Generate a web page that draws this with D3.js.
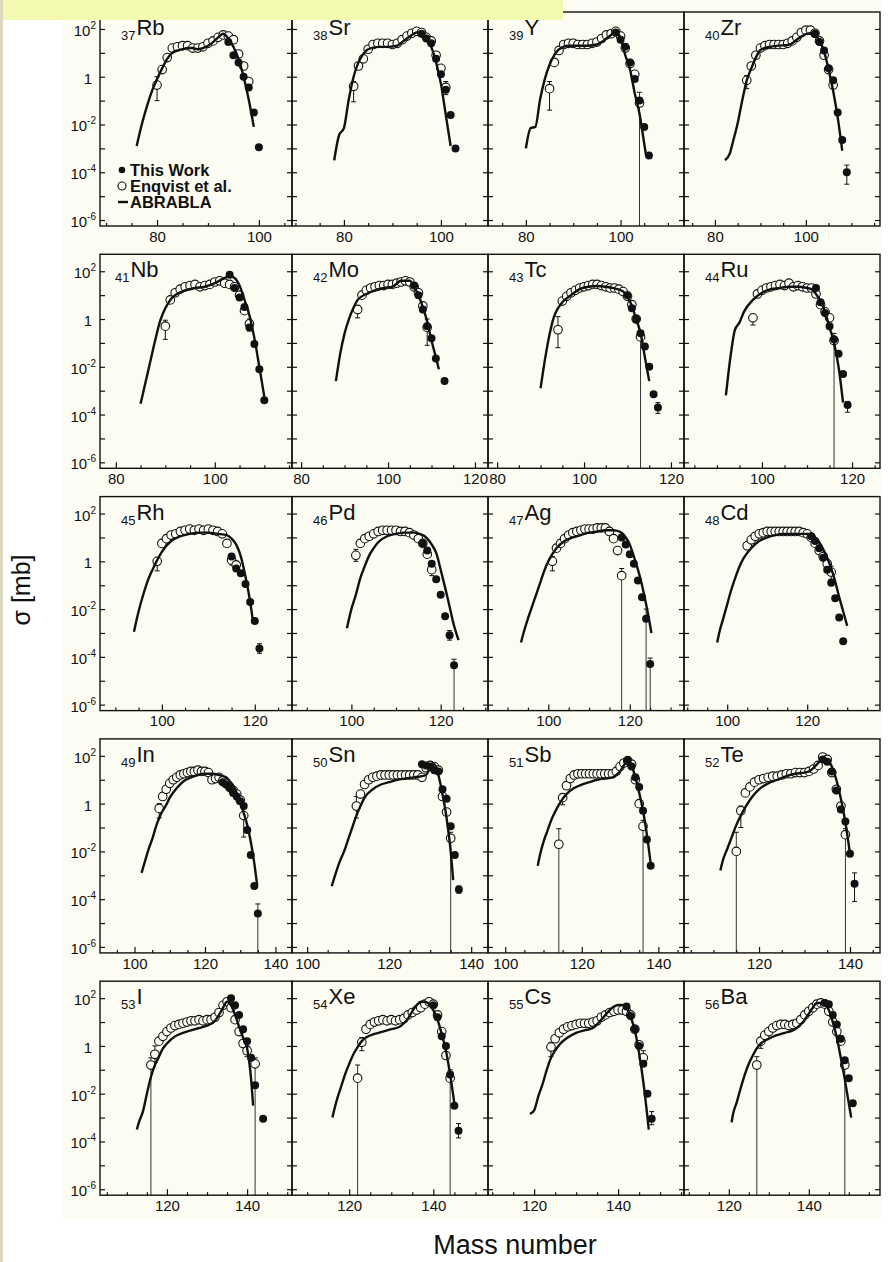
<!DOCTYPE html>
<html>
<head>
<meta charset="utf-8">
<script src="https://cdn.jsdelivr.net/npm/d3@7"></script>
<style>
  body { margin: 0; background: #fff; }
  svg { display: block; font-family: "Liberation Sans", Arial, Helvetica, sans-serif; }
</style>
</head>
<body>
<svg width="896" height="1262"></svg>
<script>
// element symbol and Z of each panel, left to right, top to bottom
const elements = ["Rb","Sr","Y","Zr","Nb","Mo","Tc","Ru","Rh","Pd","Ag","Cd","In","Sn","Sb","Te","I","Xe","Cs","Ba"]
const protonNumbers = [37,38,39,40,41,42,43,44,45,46,47,48,49,50,51,52,53,54,55,56]

// mass-number range shown in each panel
const massRanges = [[68.8,106.5],[69.3,109.7],[72.0,113.4],[73.2,116.3],[76.8,115.6],[77.9,123.0],[77.9,123.0],[82.7,126.2],
  [86.7,128.0],[86.7,130.6],[85.2,133.3],[89.2,138.2],[90.2,144.7],[96.3,144.1],[95.5,146.7],[103.5,146.6],
  [103.3,151.2],[106.4,153.0],[109.0,155.7],[108.8,157.8]]

// log10 of sigma [mb]: axis range and labelled decades
const sigmaRange = [-6.25, 2.71]
const yTickExponents = [2, 0, -2, -4, -6]

// ABRABLA curves: [A, log10 sigma]
const abrabla = [
  [[76,-2.9],[77,-2.0],[78,-1.25],[79,-0.6],[80,-0.1],[81,0.35],[82,0.75],[83,1.0],[84,1.1],[85,1.15],[86,1.2],[87,1.2],[88,1.15],[89,1.2],[90,1.3],[91,1.45],[92,1.65],[93,1.8],[94,1.6],[95,1.25],[96,0.75],[97,0.0],[98,-0.95],[99,-2.1]],
  [[78,-3.5],[79,-2.45],[80,-2.15],[81,-0.95],[82,0.0],[83,0.6],[84,0.95],[85,1.15],[87,1.25],[89,1.25],[91,1.3],[92,1.45],[93,1.6],[94,1.75],[95,1.85],[96,1.8],[97,1.6],[98,1.25],[99,0.6],[100,-0.3],[101,-1.6],[102,-2.9]],
  [[80,-3.0],[81,-2.15],[82,-2.1],[83,-0.95],[84,-0.1],[85,0.5],[86,0.9],[87,1.15],[89,1.3],[91,1.3],[93,1.3],[95,1.35],[96,1.45],[97,1.6],[98,1.75],[99,1.88],[100,1.6],[101,0.9],[102,0.3],[103,-0.7],[104,-1.55],[105,-2.8],[105.4,-3.3]],
  [[82.2,-3.5],[83.3,-3.2],[84,-2.7],[85,-1.95],[86,-1.0],[87,-0.15],[88,0.35],[89,0.8],[90,1.12],[92,1.25],[94,1.3],[96,1.33],[97,1.4],[98,1.55],[99,1.68],[100,1.78],[101,1.82],[102,1.75],[103,1.5],[104,1.05],[105,0.3],[106,-0.6],[107,-1.7],[108,-3.1]],
  [[85,-3.55],[86,-2.65],[87,-1.75],[88,-0.85],[89,-0.05],[90,0.45],[91,0.8],[92,1.0],[94,1.2],[96,1.3],[98,1.35],[100,1.5],[102,1.72],[103,1.8],[104,1.72],[105,1.4],[106,0.8],[107,0.15],[108,-0.8],[109,-2.0],[110,-3.25]],
  [[88,-2.6],[89,-1.45],[90,-0.6],[91,0.0],[92,0.45],[93,0.8],[95,1.05],[97,1.2],[99,1.3],[101,1.35],[103,1.6],[105,1.6],[106,1.35],[107,1.0],[108,0.5],[109,-0.1],[110,-0.9],[111,-1.6],[111.7,-2.1]],
  [[90,-2.9],[91,-1.7],[92,-0.7],[93,0.05],[94,0.45],[95,0.7],[97,1.0],[99,1.25],[101,1.35],[103,1.38],[105,1.35],[107,1.28],[109,1.15],[110,0.95],[111,0.55],[112,0.0],[113,-0.6],[114,-1.6],[115,-2.6]],
  [[92,-3.2],[93,-1.6],[94,-0.45],[95,-0.15],[96,0.3],[98,0.8],[100,1.1],[102,1.25],[104,1.3],[106,1.35],[108,1.35],[110,1.3],[111,1.25],[112,1.05],[113,0.75],[114,0.3],[115,-0.35],[116,-1.0],[117,-2.0],[118,-3.5]],
  [[94,-2.95],[95,-2.1],[96,-1.4],[97,-0.8],[98,-0.35],[99,0.05],[100,0.4],[102,0.85],[104,1.05],[106,1.15],[108,1.2],[110,1.2],[112,1.15],[114,1.1],[115,0.95],[116,0.7],[117,0.2],[118,-0.65],[119,-1.7],[119.6,-2.5]],
  [[99,-2.8],[100,-2.0],[101,-1.4],[102,-0.7],[103,-0.2],[104,0.25],[105,0.55],[106,0.8],[108,1.05],[110,1.15],[112,1.2],[114,1.2],[116,1.1],[117,0.95],[118,0.7],[119,0.35],[120,-0.35],[121,-1.1],[122,-1.9],[123,-2.7],[124,-3.3]],
  [[93.3,-3.4],[94,-2.95],[95,-2.4],[96,-1.9],[97,-1.4],[98,-0.9],[99,-0.4],[100,0.0],[102,0.55],[104,0.85],[106,1.0],[108,1.1],[110,1.2],[112,1.25],[114,1.3],[116,1.3],[118,1.2],[119,1.0],[120,0.7],[121,0.2],[122,-0.35],[123,-1.0],[124,-1.8],[125,-2.7],[125.3,-3.0]],
  [[97.5,-3.4],[98,-3.0],[99,-2.4],[100,-1.8],[101,-1.2],[102,-0.7],[103,-0.25],[104,0.1],[106,0.55],[108,0.85],[110,1.0],[112,1.1],[114,1.15],[116,1.15],[118,1.15],[120,1.15],[121,1.1],[122,1.0],[123,0.8],[124,0.5],[125,0.15],[126,-0.3],[127,-0.85],[128,-1.5],[129,-2.1],[130,-2.7]],
  [[102,-2.9],[103,-2.4],[104,-1.9],[105,-1.5],[106,-1.0],[107,-0.6],[108,-0.3],[109,-0.05],[110,0.25],[112,0.65],[114,0.95],[116,1.1],[118,1.2],[120,1.25],[122,1.25],[124,1.2],[126,1.1],[127,0.95],[128,0.75],[129,0.45],[130,0.05],[131,-0.4],[132,-0.9],[133,-1.6],[134,-2.5],[134.8,-3.4]],
  [[106,-3.45],[107,-2.9],[108,-2.4],[109,-2.0],[110,-1.5],[111,-1.0],[112,-0.5],[113,-0.1],[114,0.25],[116,0.6],[118,0.8],[120,0.9],[122,1.0],[124,1.05],[126,1.1],[128,1.15],[129,1.2],[130,1.5],[131,1.65],[132,1.2],[133,0.4],[134,-0.6],[135,-2.0],[135.6,-3.2]],
  [[108.5,-2.6],[109,-2.2],[110,-1.6],[111,-1.15],[112,-0.7],[113,-0.35],[114,-0.05],[115,0.2],[116,0.4],[118,0.65],[120,0.8],[122,0.9],[124,1.0],[126,1.05],[128,1.1],[129,1.2],[130,1.35],[131,1.6],[132,1.8],[133,1.6],[134,1.1],[135,0.45],[136,-0.3],[137,-1.3],[138,-2.5]],
  [[111.5,-2.8],[112,-2.4],[113,-1.9],[114,-1.4],[115,-0.9],[116,-0.5],[117,-0.15],[118,0.15],[119,0.4],[120,0.6],[122,0.85],[124,1.0],[126,1.15],[128,1.25],[130,1.3],[131,1.35],[132,1.5],[133,1.7],[134,1.9],[135,1.85],[136,1.55],[137,1.0],[138,0.2],[139,-0.8],[140,-2.1]],
  [[112.5,-3.5],[113,-3.2],[114,-2.75],[115,-2.0],[116,-1.3],[117,-0.8],[118,-0.45],[119,-0.1],[120,0.1],[122,0.4],[124,0.55],[126,0.65],[128,0.75],[130,0.85],[132,1.05],[133,1.3],[134,1.6],[135,1.85],[136,1.7],[137,1.3],[138,0.8],[139,0.35],[140,-0.1],[141,-1.4],[141.5,-2.5]],
  [[116,-3.0],[117,-2.3],[118,-1.75],[119,-1.2],[120,-0.75],[121,-0.35],[122,-0.05],[123,0.2],[124,0.35],[126,0.5],[128,0.6],[130,0.7],[132,0.8],[133,0.95],[134,1.15],[135,1.45],[136,1.7],[137,1.85],[138,1.85],[139,1.75],[140,1.5],[141,1.1],[142,0.5],[143,-0.2],[144,-1.2],[145,-2.4]],
  [[119,-2.85],[120,-2.7],[121,-2.1],[122,-1.6],[123,-1.0],[124,-0.5],[125,-0.2],[126,0.05],[128,0.35],[130,0.55],[132,0.65],[134,0.75],[135,0.9],[136,1.1],[137,1.3],[138,1.5],[139,1.65],[140,1.72],[141,1.72],[142,1.6],[143,1.2],[144,0.65],[145,-0.3],[146,-1.5],[147,-3.0],[147.3,-3.5]],
  [[120.7,-3.2],[121,-2.9],[122,-2.35],[123,-1.75],[124,-1.2],[125,-0.75],[126,-0.4],[127,-0.1],[128,0.1],[130,0.3],[132,0.45],[134,0.55],[136,0.65],[137,0.75],[138,0.9],[139,1.1],[140,1.35],[141,1.6],[142,1.8],[143,1.8],[144,1.75],[145,1.5],[146,1.0],[147,0.35],[148,-0.5],[149,-1.4],[150,-2.4],[150.6,-3.0]]
]

// Enqvist et al. (open circles): [A, log10 sigma, errLow, errHigh]; errLow null = bar down to the axis
const enqvist = [
  [[80,-0.35,-1.0,0.0],[81,0.3],[82,0.8],[83,1.2],[84,1.25],[85,1.3],[86,1.3],[87,1.2],[88,1.2],[89,1.25],[90,1.4],[91,1.5],[92,1.65],[93,1.75],[94,1.7],[95,1.55],[96,0.95],[97,0.45],[98,-0.2]],
  [[82,-0.4,-1.05,-0.2],[83,0.45],[84,0.75],[85,1.15],[86,1.35],[87,1.4],[88,1.4],[89,1.4],[90,1.35],[91,1.4],[92,1.55],[93,1.7],[94,1.82],[95,1.9],[96,1.85],[97,1.65],[98,1.5],[99,0.9],[100,0.35],[101,-0.45,-0.75,-0.2]],
  [[85,-0.5,-1.4,-0.2],[86,0.6],[87,1.1],[88,1.35],[89,1.4],[90,1.4],[91,1.35],[92,1.35],[93,1.35],[94,1.4],[95,1.45],[96,1.6],[97,1.75],[98,1.8],[99,1.9],[100,1.7],[101,1.2],[102,0.55],[103,0.1],[104,-1.1,null,-0.65]],
  [[87,-0.15,-0.5,0.05],[88,0.45],[89,0.9],[90,1.2],[91,1.3],[92,1.35],[93,1.35],[94,1.35],[95,1.35],[96,1.4],[97,1.5],[98,1.65],[99,1.85],[100,1.95],[101,1.95],[102,1.82],[103,1.5],[104,0.9],[105,0.3],[106,-0.35]],
  [[90,-0.3,-0.85,-0.05],[91,0.8],[92,1.1],[93,1.25],[94,1.35],[95,1.4],[96,1.45],[97,1.35],[98,1.4],[99,1.45],[100,1.55],[101,1.6],[102,1.5],[103,1.45],[104,1.35],[105,1.0],[106,0.35],[107,-0.2,-0.5,0.0]],
  [[93,0.4,0.05,0.55],[94,1.0],[95,1.2],[96,1.3],[97,1.35],[98,1.4],[99,1.4],[100,1.45],[101,1.45],[102,1.5],[103,1.55],[104,1.6],[105,1.55],[106,1.35],[107,1.1],[108,0.55],[109,-0.35,-1.1,0.0]],
  [[94,-0.45,-1.2,0.1],[95,0.75],[96,0.95],[97,1.1],[98,1.2],[99,1.3],[100,1.35],[101,1.4],[102,1.45],[103,1.45],[104,1.4],[105,1.35],[106,1.3],[107,1.3],[108,1.25],[109,1.15],[110,0.95],[111,0.6],[112,0.0],[113,-0.75,null,-0.5]],
  [[98,0.05,-0.25,0.2],[99,1.05],[100,1.2],[101,1.3],[102,1.35],[103,1.4],[104,1.45],[105,1.4],[106,1.5],[107,1.35],[108,1.4],[109,1.35],[110,1.3],[111,1.3],[112,1.05],[113,0.6],[114,0.3],[115,0.05],[116,-0.9,null,-0.6]],
  [[99,0.0,-0.4,0.15],[100,0.75],[101,0.95],[102,1.1],[103,1.15],[104,1.25],[105,1.3],[106,1.35],[107,1.3],[108,1.35],[109,1.3],[110,1.35],[111,1.3],[112,1.25],[113,1.15],[114,0.75],[115,0.05,-0.15,0.2],[116,-0.15]],
  [[101,0.25,0.0,0.5],[102,0.75],[103,0.95],[104,1.05],[105,1.15],[106,1.25],[107,1.3],[108,1.3],[109,1.3],[110,1.3],[111,1.25],[112,1.25],[113,1.2],[114,1.1],[115,0.95],[116,0.75],[117,0.3],[118,-0.35,-0.6,-0.1]],
  [[101,0.0,-0.4,0.2],[102,0.55],[103,0.75],[104,0.95],[105,1.1],[106,1.2],[107,1.25],[108,1.3],[109,1.35],[110,1.35],[111,1.35],[112,1.4],[113,1.4],[114,1.4],[115,1.25],[116,0.95],[117,0.45],[118,-0.6,null,-0.3]],
  [[105,0.65],[106,0.9],[107,1.05],[108,1.15],[109,1.2],[110,1.25],[111,1.25],[112,1.25],[113,1.25],[114,1.25],[115,1.25],[116,1.25],[117,1.25],[118,1.25],[119,1.2],[120,1.15],[121,1.0],[122,0.75],[123,0.45],[124,0.2],[125,-0.1],[126,-0.45,-0.75,-0.2]],
  [[107,-0.2,-0.6,0.0],[108,0.3],[109,0.6],[110,0.85],[111,1.0],[112,1.1],[113,1.2],[114,1.25],[115,1.3],[116,1.35],[117,1.35],[118,1.4],[119,1.35],[120,1.35],[121,1.3],[122,1.0],[123,1.05],[124,1.1],[125,0.95],[126,0.85],[127,0.7],[128,0.55],[129,0.4],[130,0.15],[131,-0.5,-1.4,-0.2]],
  [[112,-0.1,-0.6,0.3],[113,0.4],[114,0.8],[115,1.0],[116,1.1],[117,1.15],[118,1.2],[119,1.2],[120,1.2],[121,1.2],[122,1.2],[123,1.2],[124,1.2],[125,1.2],[126,1.2],[127,1.2],[128,1.1],[129,1.5],[130,1.6],[131,1.55],[132,1.4],[133,0.3],[134,-0.35],[135,-1.45,null,-1.2]],
  [[114,-1.7,null,-1.05],[115,0.25,-0.05,0.4],[116,0.75],[117,1.05],[118,1.2],[119,1.25],[120,1.25],[121,1.25],[122,1.25],[123,1.25],[124,1.25],[125,1.25],[126,1.25],[127,1.25],[128,1.25],[129,1.35],[130,1.55],[131,1.7],[132,1.8],[133,1.65],[134,1.0],[135,0.0],[136,-0.95,null,-0.7]],
  [[115,-2.0,null,-1.2],[116,-0.3,-1.0,-0.1],[117,0.45],[118,0.7],[119,0.9],[120,1.0],[121,1.05],[122,1.1],[123,1.15],[124,1.15],[125,1.2],[126,1.25],[127,1.25],[128,1.3],[129,1.3],[130,1.3],[131,1.35],[132,1.45],[133,1.6],[134,1.95],[135,1.85],[136,1.3],[137,0.6],[138,-0.1],[139,-1.3,null,-1.05]],
  [[116,-0.8,null,-0.5],[117,-0.35,-0.7,0.0],[118,0.2],[119,0.4],[120,0.6],[121,0.75],[122,0.85],[123,0.9],[124,0.95],[125,1.0],[126,1.05],[127,1.05],[128,1.1],[129,1.05],[130,1.1],[131,1.1],[132,1.2],[133,1.4],[134,1.7],[135,1.85],[136,1.6],[137,1.1],[138,0.6],[139,0.1],[140,-0.2,-0.45,0.0],[142,-0.75,null,-0.5]],
  [[122,-1.35,null,-0.8],[123,0.15,-0.2,0.35],[124,0.7],[125,0.9],[126,1.0],[127,1.05],[128,1.1],[129,1.05],[130,1.1],[131,1.05],[132,1.1],[133,1.15],[134,1.3],[135,1.4],[136,1.5],[137,1.6],[138,1.75],[139,1.85],[140,1.75],[141,1.3],[142,0.6],[143,-0.4],[144,-1.35,null,-1.0]],
  [[124,-0.05,-0.45,0.15],[125,0.3],[126,0.55],[127,0.7],[128,0.8],[129,0.85],[130,0.9],[131,0.95],[132,0.95],[133,0.95],[134,1.0],[135,1.05],[136,1.2],[137,1.3],[138,1.4],[139,1.45],[140,1.5],[141,1.5],[142,1.45],[143,1.3],[144,0.7],[145,0.05],[146,-0.5,-0.85,-0.2]],
  [[127,-0.8,null,-0.45],[128,0.2,-0.1,0.3],[129,0.45],[130,0.6],[131,0.75],[132,0.85],[133,0.9],[134,0.9],[135,0.85],[136,0.9],[137,0.95],[138,1.1],[139,1.3],[140,1.45],[141,1.6],[142,1.75],[143,1.8],[144,1.75],[145,1.45],[146,1.0],[147,0.6],[148,0.2],[149,-0.8,null,-0.55]]
]

// This work (filled circles): [A, log10 sigma, errLow, errHigh]
const thisWork = [
  [[94,1.45],[95,0.9],[96,0.6],[97,0.0],[98,-0.45],[99,-1.5],[100,-2.95]],
  [[96,1.8],[97,1.6],[98,1.4],[99,0.75],[100,0.1],[101,-0.55],[102,-1.6],[103,-3.0]],
  [[99,1.85],[100,1.55],[101,1.25],[102,0.6],[103,-0.1],[104,-1.0],[105,-2.1],[106,-3.3]],
  [[102,1.8],[103,1.45],[104,1.1],[105,0.35],[106,-0.15],[107,-1.5],[108,-2.65],[109,-4.0,-4.5,-3.7]],
  [[103,1.85],[104,1.3],[105,0.9],[106,0.5],[107,-0.35],[108,-1.05],[109,-2.1],[110,-3.4]],
  [[106,1.4],[107,1.0],[108,0.4],[109,-0.3],[110,-0.8],[111,-1.65],[113,-2.6]],
  [[110,1.0],[111,0.45],[112,0.0],[113,-0.6],[114,-1.15],[115,-2.0],[116,-3.15],[117,-3.7,-3.95,-3.5]],
  [[112,1.3],[113,0.7],[114,0.25],[115,-0.3],[116,-0.85],[117,-1.45],[118,-2.3],[119,-3.6,-3.9,-3.45]],
  [[115,0.2],[116,-0.3],[117,-0.5],[118,-0.95],[119,-1.7],[120,-2.5],[121,-3.65,-3.85,-3.45]],
  [[116,0.75],[117,0.45],[118,-0.1],[119,-0.75],[120,-1.4],[121,-2.3],[122,-3.1,-3.3,-2.9],[123,-4.35,null,-4.1]],
  [[118,1.0],[119,0.7],[120,0.3],[121,-0.1],[122,-0.8],[123,-1.5],[124,-2.4,null,-2.0],[125,-4.3,null,-4.05]],
  [[121,1.05],[122,0.85],[123,0.55],[124,0.15],[125,-0.35],[126,-0.9],[127,-1.55],[128,-2.35],[129,-3.35]],
  [[125,0.9],[126,0.8],[127,0.65],[128,0.45],[129,0.3],[130,0.1],[131,-0.1],[132,-1.1],[133,-2.15],[134,-3.45,-3.55,-3.35],[135,-4.6,null,-4.2]],
  [[128,1.65],[129,1.6],[130,1.55],[131,1.4],[132,1.35],[133,0.6],[134,0.2],[135,-0.95],[136,-2.15],[137,-3.6,-3.75,-3.45]],
  [[132,1.8],[133,1.55],[134,1.1],[135,0.7],[136,-0.3],[137,-1.5],[138,-2.6]],
  [[134,1.85],[135,1.75],[136,1.35],[137,0.55],[138,-0.25],[139,-0.75],[140,-2.1],[141,-3.35,-4.1,-2.9]],
  [[136,2.0],[137,1.7],[138,1.3],[139,0.7],[140,0.2],[141,-0.5],[142,-1.65],[144,-3.05]],
  [[140,1.7],[141,1.2],[142,0.4],[143,0.0],[144,-1.2],[145,-2.5],[146,-3.55,-3.85,-3.25]],
  [[142,1.65],[143,1.25],[144,0.7],[145,0.0],[146,-0.75],[147,-2.0],[148,-3.05,-3.3,-2.75]],
  [[144,1.8],[145,1.75],[146,1.3],[147,0.9],[148,0.3],[149,-0.6],[150,-1.35],[151,-2.4]]
]

const legendLabels = ["This Work", "Enqvist et al.", "ABRABLA"]

// layout
const colEdges = [100, 292, 488, 684, 880]
const rowTop0 = 12, rowStep = 242.3, panelH = 214
const ink = "#111"
const paper = "#fcfcf3"
const font = '"Liberation Sans", Arial, Helvetica, sans-serif'

const svg = d3.select("svg")

svg.append("rect").attr("width", 896).attr("height", 1262).attr("fill", "#fff")
svg.append("rect").attr("x", 62).attr("y", 0).attr("width", 820).attr("height", 1218).attr("fill", paper)
svg.append("rect").attr("x", 0).attr("y", 0).attr("width", 3).attr("height", 1262).attr("fill", "#ddd5bd")

const pow10 = v => Math.pow(10, v)

elements.forEach((el, i) => {
    const row = Math.floor(i / 4), col = i % 4
    const x0 = colEdges[col], x1 = colEdges[col + 1]
    const top = rowTop0 + row * rowStep, bottom = top + panelH

    const xScale = d3.scaleLinear().domain(massRanges[i]).range([x0, x1])
    const yScale = d3.scaleLog().domain([pow10(sigmaRange[0]), pow10(sigmaRange[1])]).range([bottom, top])

    const g = svg.append("g").attr("class", "panel")

    // error bars
    const bars = enqvist[i].concat(thisWork[i]).filter(d => d.length > 2)
    bars.forEach(d => {
        const x = xScale(d[0])
        const yLo = d[2] === null ? bottom : yScale(pow10(d[2]))
        const yHi = yScale(pow10(d[3]))
        g.append("line")
            .attr("x1", x).attr("x2", x).attr("y1", yLo).attr("y2", yHi)
            .attr("stroke", d[2] === null ? "#333" : ink).attr("stroke-width", 1)
        const caps = d[2] === null ? [yHi] : [yLo, yHi]
        caps.forEach(cy => {
            g.append("line")
                .attr("x1", x - 2.5).attr("x2", x + 2.5).attr("y1", cy).attr("y2", cy)
                .attr("stroke", ink).attr("stroke-width", 1)
        })
    })

    // open circles
    g.append("g")
        .selectAll("circle")
        .data(enqvist[i])
        .enter()
        .append("circle")
        .attr("cx", d => xScale(d[0]))
        .attr("cy", d => yScale(pow10(d[1])))
        .attr("r", 4.3)
        .attr("fill", paper)
        .attr("stroke", ink)
        .attr("stroke-width", 1.1)

    // ABRABLA line
    const line = d3.line()
        .x(d => xScale(d[0]))
        .y(d => yScale(pow10(d[1])))
        .curve(d3.curveMonotoneX)

    g.append("path")
        .attr("d", line(abrabla[i]))
        .attr("fill", "none")
        .attr("stroke", ink)
        .attr("stroke-width", 2.4)
        .attr("stroke-linejoin", "round")

    // filled circles
    g.append("g")
        .selectAll("circle")
        .data(thisWork[i])
        .enter()
        .append("circle")
        .attr("cx", d => xScale(d[0]))
        .attr("cy", d => yScale(pow10(d[1])))
        .attr("r", 4)
        .attr("fill", ink)

    // frame
    g.append("rect")
        .attr("x", x0).attr("y", top).attr("width", x1 - x0).attr("height", panelH)
        .attr("fill", "none").attr("stroke", ink).attr("stroke-width", 1.4)

    // y ticks, both sides pointing inward
    const decades = d3.range(-6, 3).map(pow10)
    const yLeft = d3.axisLeft(yScale).tickValues(decades).tickSize(-5).tickFormat("")
    const yRight = d3.axisRight(yScale).tickValues(decades).tickSize(-5).tickFormat("")
    g.append("g").attr("transform", `translate(${x0},0)`).call(yLeft)
    g.append("g").attr("transform", `translate(${x1},0)`).call(yRight)

    // x ticks: majors every 20 with labels, minors every 5
    const [a0, a1] = massRanges[i]
    const majors = d3.range(Math.ceil(a0 / 20) * 20, a1, 20)
    const minors = d3.range(Math.ceil(a0 / 5) * 5, a1, 5).filter(v => v % 20 !== 0)
    g.append("g").attr("transform", `translate(0,${bottom})`)
        .call(d3.axisBottom(xScale).tickValues(minors).tickSize(-3).tickFormat(""))
    const xAxisG = g.append("g").attr("class", "xAxisG").attr("transform", `translate(0,${bottom})`)
        .call(d3.axisBottom(xScale).tickValues(majors).tickSize(-6).tickPadding(5).tickFormat(d3.format("d")))
    xAxisG.selectAll("text")
        .attr("font-family", font).attr("font-size", 15).attr("fill", ink)

    g.selectAll("path.domain").style("display", "none")
    g.selectAll(".tick line").attr("stroke", ink).attr("stroke-width", 1.2)

    // y labels on the first column
    if (col === 0) {
        yTickExponents.forEach(e => {
            const t = g.append("text")
                .attr("x", e === 0 ? x0 - 8 : x0 - 4)
                .attr("y", yScale(pow10(e)) + 7)
                .attr("text-anchor", "end")
                .attr("font-family", font)
                .attr("font-size", 15)
                .attr("fill", ink)
            if (e === 0) {
                t.text("1")
            } else {
                t.append("tspan").text("10")
                t.append("tspan").attr("font-size", 10).attr("dy", -7).text(String(e))
            }
        })
    }

    // element label, e.g. 37Rb
    const lab = g.append("text")
        .attr("x", x0 + (i === 4 ? 15 : 21))
        .attr("y", top + 23)
        .attr("font-family", font)
        .attr("fill", ink)
    lab.append("tspan").attr("font-size", 13).attr("dy", 5).text(protonNumbers[i])
    lab.append("tspan").attr("font-size", 22).attr("dy", -5).attr("dx", 1).text(el)

    // legend in the first panel
    if (i === 0) {
        const lx = x0 + 22, tx = x0 + 30
        const ly = [top + 158, top + 174, top + 190]
        g.append("circle").attr("cx", lx).attr("cy", ly[0]).attr("r", 3.3).attr("fill", ink)
        g.append("circle").attr("cx", lx).attr("cy", ly[1]).attr("r", 4).attr("fill", paper)
            .attr("stroke", ink).attr("stroke-width", 1.1)
        g.append("line").attr("x1", lx - 4).attr("x2", lx + 6).attr("y1", ly[2]).attr("y2", ly[2])
            .attr("stroke", ink).attr("stroke-width", 2.4)
        legendLabels.forEach((txt, k) => {
            g.append("text")
                .attr("x", tx).attr("y", ly[k] + 6)
                .attr("font-family", font).attr("font-size", 16.5).attr("font-weight", "bold")
                .attr("fill", ink)
                .text(txt)
        })
    }
})

// axis titles
svg.append("text")
    .attr("transform", "translate(30,590) rotate(-90)")
    .attr("text-anchor", "middle")
    .attr("font-family", font)
    .attr("font-size", 25)
    .attr("fill", ink)
    .text("σ [mb]")

svg.append("text")
    .attr("x", 515).attr("y", 1254)
    .attr("text-anchor", "middle")
    .attr("font-family", font)
    .attr("font-size", 27)
    .attr("fill", ink)
    .text("Mass number")

// yellow highlight strip over the top
svg.append("rect").attr("x", 3).attr("y", 0).attr("width", 560).attr("height", 20).attr("fill", "#f3fab0")
</script>
</body>
</html>
